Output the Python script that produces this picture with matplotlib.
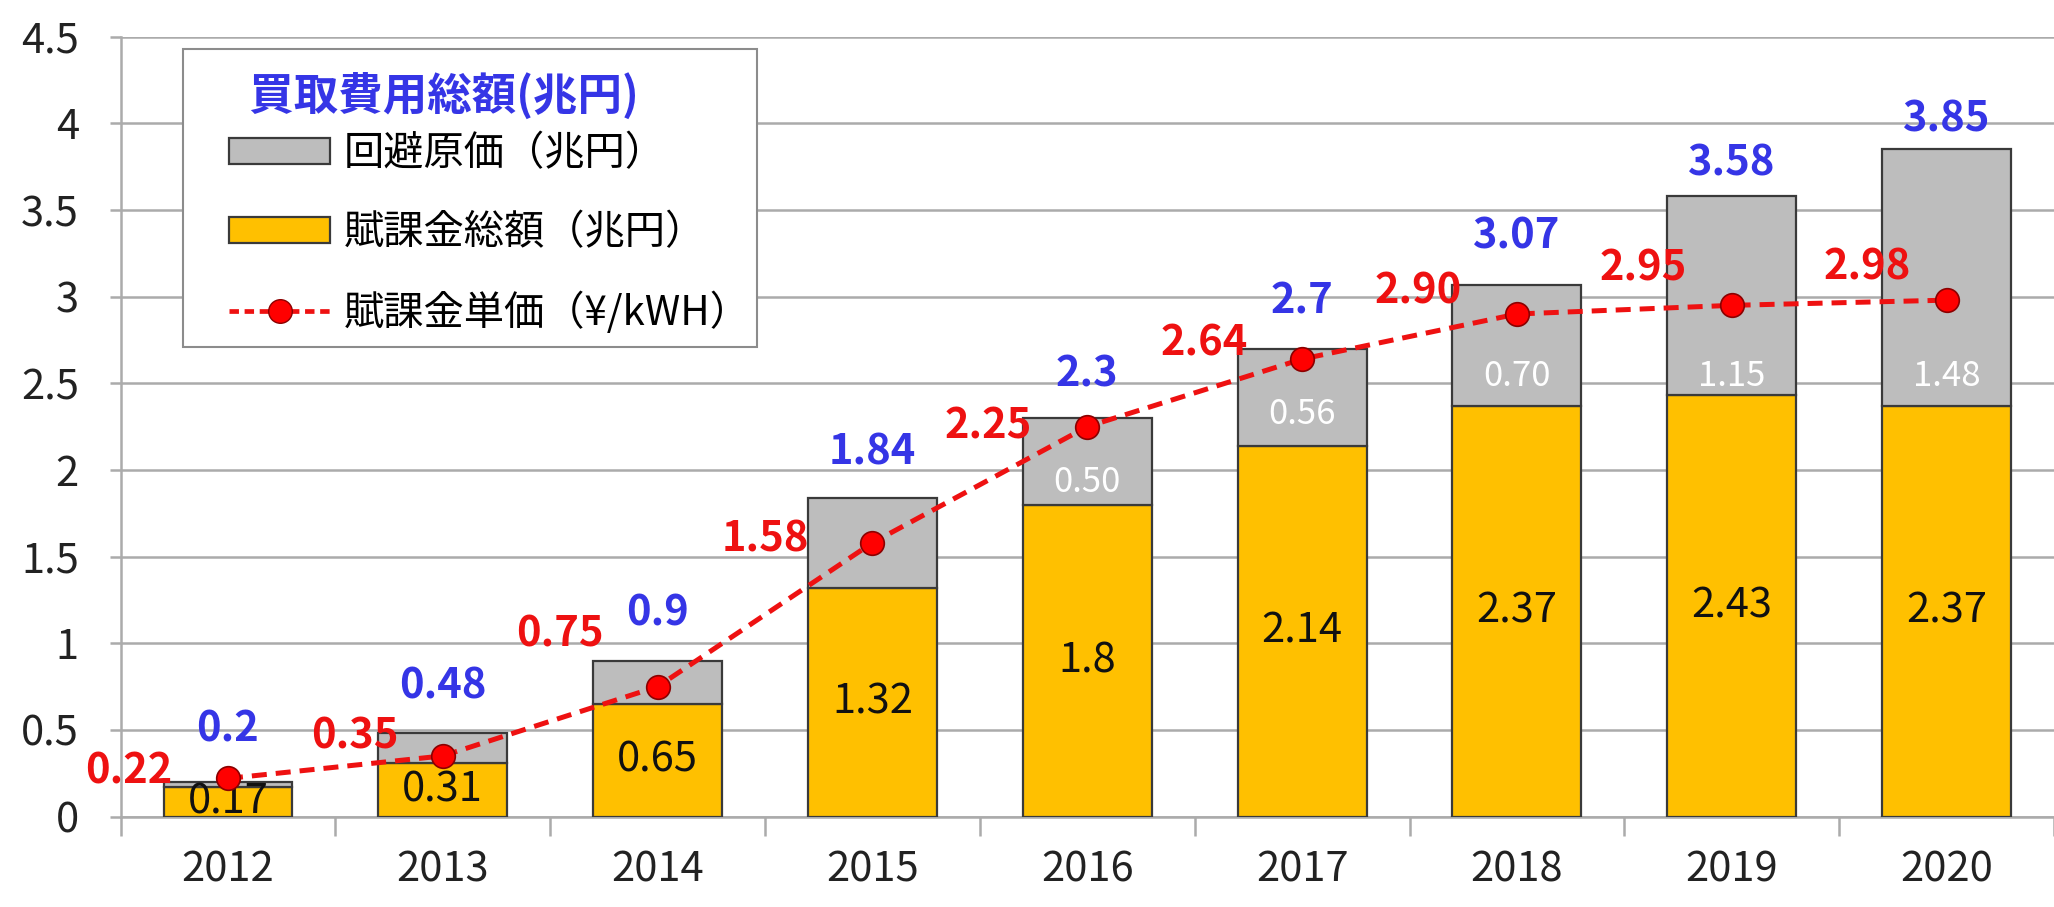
import matplotlib
matplotlib.use("Agg")
import matplotlib.pyplot as plt
import numpy as np
from matplotlib.patches import Patch, Rectangle
from matplotlib.lines import Line2D

plt.rcParams['font.family'] = ['Noto Sans CJK JP', 'DejaVu Sans']

# ---- data ----
years = ["2012", "2013", "2014", "2015", "2016", "2017", "2018", "2019", "2020"]
levy_total = [0.17, 0.31, 0.65, 1.32, 1.8, 2.14, 2.37, 2.43, 2.37]        # 賦課金総額
avoided_cost = [0.03, 0.17, 0.25, 0.52, 0.50, 0.56, 0.70, 1.15, 1.48]    # 回避原価
purchase_total = [0.2, 0.48, 0.9, 1.84, 2.3, 2.7, 3.07, 3.58, 3.85]     # 買取費用総額
levy_unit = [0.22, 0.35, 0.75, 1.58, 2.25, 2.64, 2.90, 2.95, 2.98]      # 賦課金単価
levy_unit_labels = ["0.22", "0.35", "0.75", "1.58", "2.25", "2.64", "2.90", "2.95", "2.98"]
total_labels = ["0.2", "0.48", "0.9", "1.84", "2.3", "2.7", "3.07", "3.58", "3.85"]
levy_labels = ["0.17", "0.31", "0.65", "1.32", "1.8", "2.14", "2.37", "2.43", "2.37"]
avoided_labels = ["", "", "", "", "0.50", "0.56", "0.70", "1.15", "1.48"]
yticks = [0, 0.5, 1, 1.5, 2, 2.5, 3, 3.5, 4, 4.5]
ytick_labels = ["0", "0.5", "1", "1.5", "2", "2.5", "3", "3.5", "4", "4.5"]

# ---- label placement (layout, not data) ----
total_dy = [0.30, 0.27, 0.27, 0.26, 0.25, 0.27, 0.28, 0.19, 0.17]
unit_dx = [-0.46, -0.41, -0.455, -0.50, -0.46, -0.455, -0.46, -0.41, -0.37]
unit_dy = [0.04, 0.11, 0.30, 0.02, 0.0, 0.09, 0.13, 0.21, 0.19]
avoided_dy = [0, 0, 0, 0, 0.13, 0.18, 0.17, 0.11, 0.17]

YELLOW = "#FFC000"
GRAY = "#BDBDBD"
EDGE = "#3a3a3a"
GRID = "#ABABAB"
BLUE = "#3535E6"
RED = "#EE1111"

fig = plt.figure(figsize=(20.54, 9.07), dpi=100)
ax = fig.add_axes([0.0587, 0.0997, 0.9413, 0.8598])

x = np.arange(len(years))
w = 0.6
ax.bar(x, levy_total, w, color=YELLOW, edgecolor=EDGE, linewidth=1.6, zorder=3)
ax.bar(x, avoided_cost, w, bottom=levy_total, color=GRAY, edgecolor=EDGE, linewidth=1.6, zorder=3)
ax.plot(x, levy_unit, linestyle=(0, (3, 1.8)), color=RED, linewidth=3.6, marker='o',
        markersize=17, markerfacecolor="#FF0000", markeredgecolor="#8B0000",
        markeredgewidth=1.2, zorder=5)

fs = 30
for i in range(len(years)):
    top = levy_total[i] + avoided_cost[i]
    ax.text(x[i], levy_total[i] / 2, levy_labels[i], ha='center', va='center',
            fontsize=fs, color="#111111", zorder=4)
    if avoided_labels[i]:
        ax.text(x[i], levy_total[i] + avoided_dy[i], avoided_labels[i], ha='center',
                va='center', fontsize=25, color="white", zorder=4)
    ax.text(x[i], top + total_dy[i], total_labels[i], ha='center', va='center',
            fontsize=fs, color=BLUE, fontweight='bold', zorder=6)
    ax.text(x[i] + unit_dx[i], levy_unit[i] + unit_dy[i], levy_unit_labels[i],
            ha='center', va='center', fontsize=fs, color=RED, fontweight='bold', zorder=6)

ax.set_xlim(-0.5, 8.47)
ax.set_ylim(0, 4.5)
ax.set_yticks(yticks)
ax.set_yticklabels(ytick_labels)
ax.yaxis.grid(True, color=GRID, linewidth=1.8, zorder=0)
ax.set_axisbelow(True)
ax.tick_params(axis='y', length=8, width=1.8, color=GRID, pad=22, labelsize=fs, labelcolor="#222222")

ax.set_xticks(np.arange(-0.5, len(years), 1))
ax.set_xticklabels([])
ax.set_xticks(x, minor=True)
ax.set_xticklabels(years, minor=True)
ax.tick_params(axis='x', which='major', length=14, width=1.8, color=GRID)
ax.tick_params(axis='x', which='minor', length=0, pad=24, labelsize=fs, labelcolor="#222222")

for s in ['top', 'right']:
    ax.spines[s].set_visible(False)
ax.spines['left'].set_color(GRID)
ax.spines['left'].set_linewidth(1.8)
ax.spines['bottom'].set_color(GRID)
ax.spines['bottom'].set_linewidth(1.8)

# legend frame (figure coordinates)
frame = Rectangle((0.0893, 0.617), 0.3686 - 0.0893, 0.9465 - 0.617, transform=fig.transFigure,
                  facecolor="white", edgecolor="#8c8c8c", linewidth=1.5, zorder=10)
fig.patches.append(frame)

handles = [
    Patch(facecolor=GRAY, edgecolor=EDGE, linewidth=1.6),
    Patch(facecolor=YELLOW, edgecolor=EDGE, linewidth=1.6),
    Line2D([0], [0], linestyle=(0, (2, 1.2)), color=RED, linewidth=3.4, marker='o',
           markersize=17, markerfacecolor="#FF0000", markeredgecolor="#8B0000"),
]
labels = ["回避原価（兆円）", "賦課金総額（兆円）", "賦課金単価（¥/kWH）"]
leg = fig.legend(handles, labels, loc='upper left', bbox_to_anchor=(0.1116, 0.920),
                 borderaxespad=0, borderpad=0,
                 fontsize=29, title="  買取費用総額(兆円)", alignment='left',
                 title_fontproperties={'size': 32, 'weight': 'bold'},
                 frameon=False,
                 handlelength=2.5, handleheight=0.6, labelspacing=0.95,
                 handletextpad=0.35)
leg.set_zorder(11)
leg.get_title().set_color(BLUE)
leg._legend_box.sep = 9.5

fig.savefig("out.png", dpi=100)
